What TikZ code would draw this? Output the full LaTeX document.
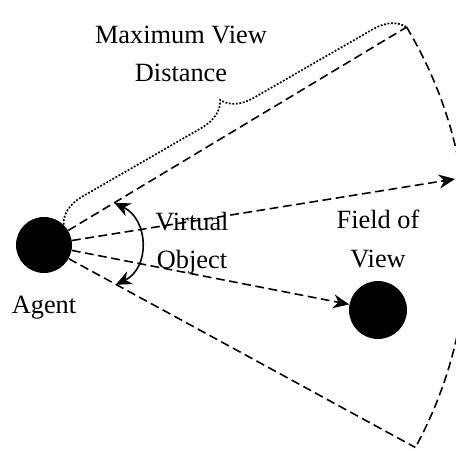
\documentclass[tikz,border=0pt]{standalone}
\usepackage{fontspec}
\setmainfont{Liberation Serif}
\usetikzlibrary{arrows.meta,positioning,decorations.pathreplacing}

\begin{document}
\begin{tikzpicture}[
    x=0.02cm, y=0.02cm,
    font=\fontsize{15}{22}\selectfont,
    >={Stealth[length=3.2mm, width=2.8mm]},
    dot/.style={circle, fill=black, inner sep=0pt},
    txt/.style={align=center, inner sep=0pt},
    ray/.style={line width=0.9pt, dash pattern=on 5pt off 2.6pt},
    line/.style={->, ray},
    rangebrace/.style={line width=0.95pt, dash pattern=on 1.05pt off 0.95pt, decorate, decoration={brace, amplitude=0.6cm}}
]
\useasboundingbox (0,0) rectangle (456,450);
\clip (0,0) rectangle (456,450);

% Agent and object
\node[dot, minimum size=1.12cm] (agent) at (44,205) {};
\node[dot, minimum size=1.16cm] (obj) at (378,140) {};

% View cone
\path (agent) ++(31:423) coordinate (upper);
\path (agent) ++(-28.6:423) coordinate (lower);
\coordinate (fovtip) at (455,271);
\draw[ray] (agent.31) -- (upper);
\draw[ray] (agent.-29) -- (lower);
\draw[ray] (upper) arc[start angle=31, end angle=-28.6, radius=423];

% Rays
\draw[line] (agent) -- (fovtip);
\draw[line] (agent) -- (obj);

% View angle
\path (agent) ++(31:82) coordinate (ang1);
\path (agent) ++(-29:82) coordinate (ang2);
\draw[<->, line width=0.9pt] (ang1) to[out=-26, in=26, looseness=1.2] (ang2);

% Maximum view distance
\draw[rangebrace] (agent.46) -- (upper);

% Labels
\node[txt] (maxdist) at (181,396) {Maximum View\\Distance};
\node[txt] (virtobj) at (192,207) {Virtual\\Object};
\node[txt] (fov) at (378,211) {Field of\\View};
\node[txt, below=0.44cm of agent] (agentlbl) {Agent};

\end{tikzpicture}
\end{document}
